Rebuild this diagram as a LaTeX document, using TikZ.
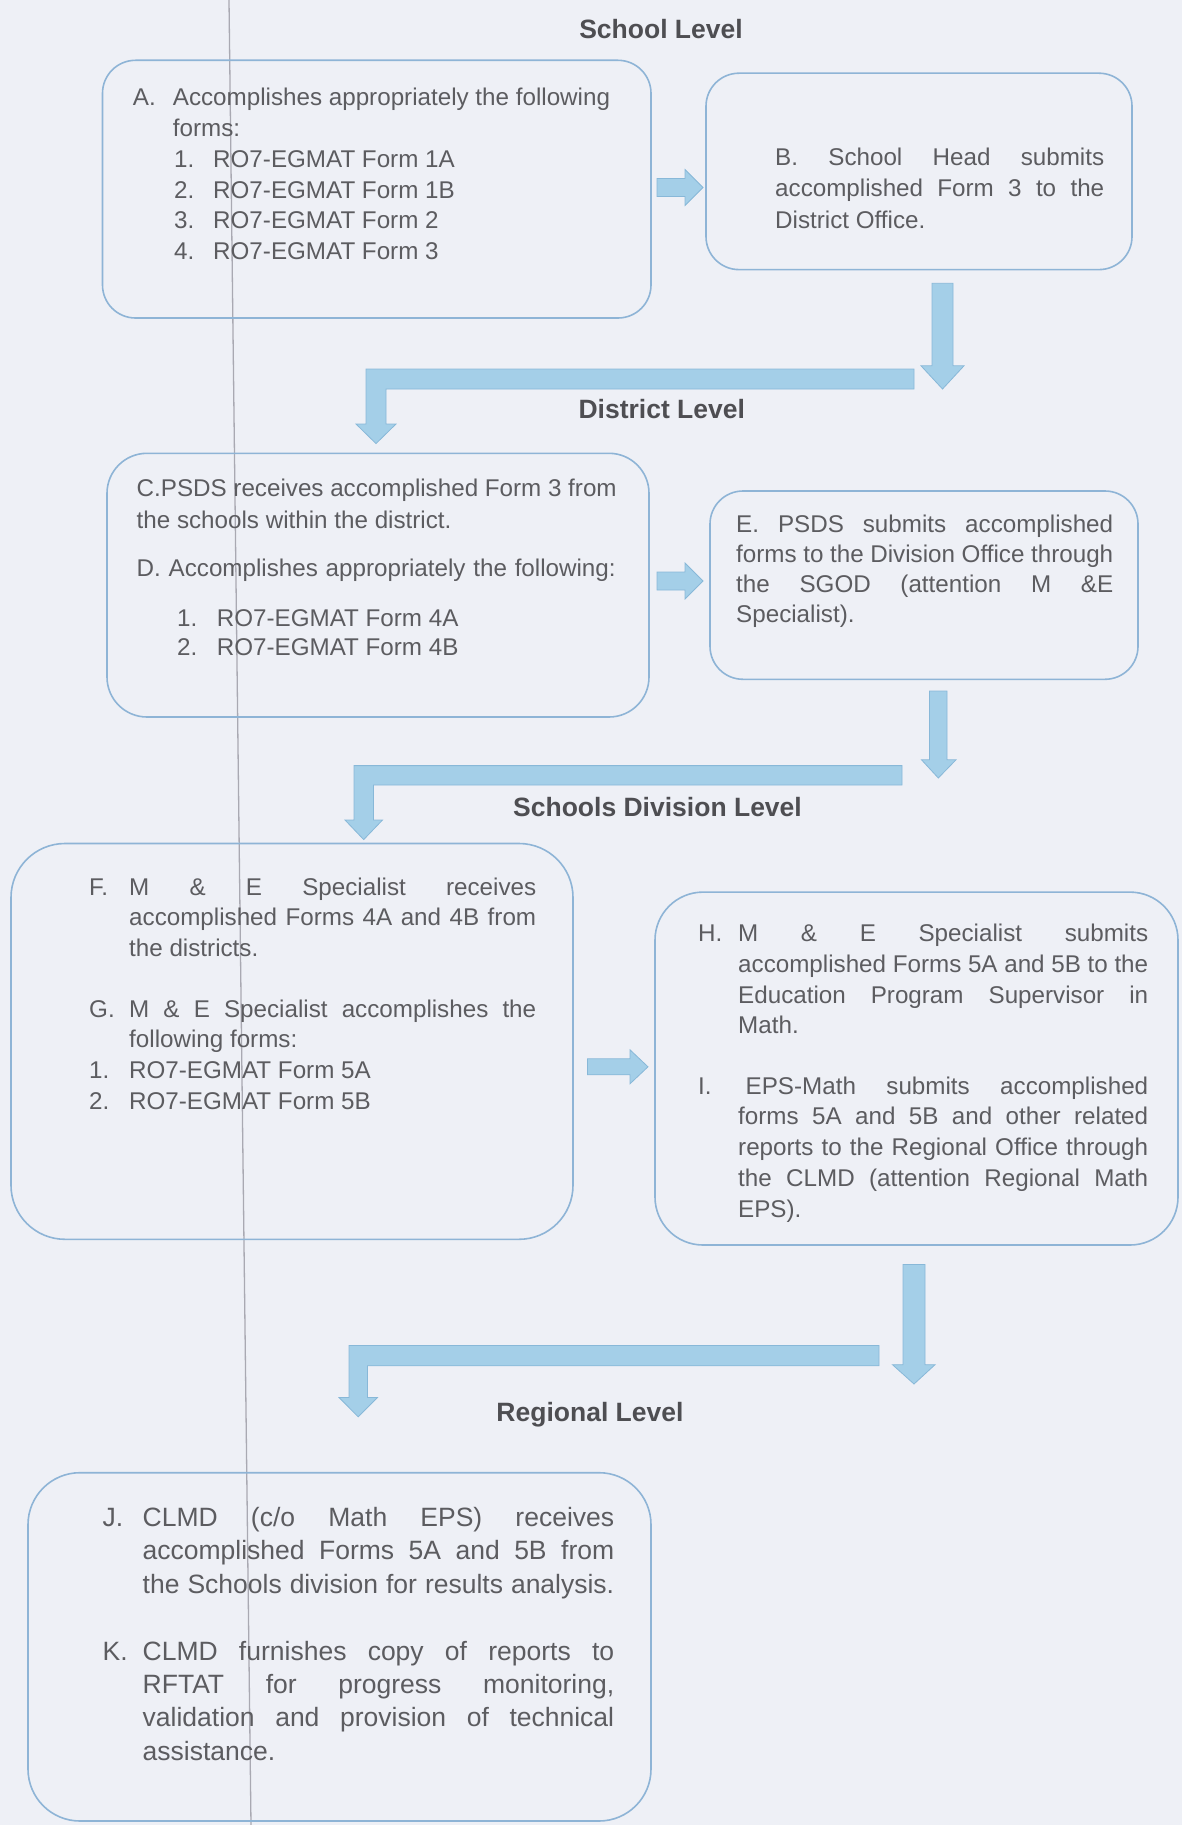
\documentclass[tikz,border=0pt]{standalone}
\usepackage{fontspec}
\setmainfont{Liberation Sans}
\definecolor{bgcol}{HTML}{EEF0F6}
\definecolor{boxblue}{HTML}{8EB4D6}
\definecolor{arrowblue}{HTML}{A4CFE8}
\definecolor{arrowedge}{HTML}{88B8D8}
\definecolor{txtcol}{HTML}{5C5C60}
\definecolor{headcol}{HTML}{4E4E52}
\definecolor{foldcol}{HTML}{A9A9B2}
\newcommand\bodyfont[2]{\fontsize{#1}{#2}\selectfont}
\newcommand\tlines[1]{\parbox[t]{600pt}{\raggedright #1}}
\tikzset{
  box/.style={draw=boxblue, line width=1.6pt, rectangle, inner sep=0pt},
  txt/.style={anchor=base west, inner sep=0pt, text=txtcol},
  headtxt/.style={anchor=base, inner sep=0pt, text=headcol, font=\bfseries\fontsize{26.5}{30}\selectfont},
  blk/.style={fill=arrowblue, draw=arrowedge, line width=0.8pt, line join=miter},
  fold/.style={draw=foldcol, line width=1.3pt}
}
\begin{document}
\begin{tikzpicture}[x=1pt,y=-1pt]
\useasboundingbox (0,0) rectangle (1182,1825);
\fill[bgcol] (0,0) rectangle (1182,1825);
\coordinate (foldtop) at (229,0);
\coordinate (foldbot) at (251,1825);
\draw[fold] (foldtop) -- (foldbot);

% headings
\node[headtxt] (hSchool) at (661,38.7) {School Level};
\node[headtxt] (hDistrict) at (661.75,418) {District Level};
\node[headtxt] (hDivision) at (657.5,816) {Schools Division Level};
\node[headtxt] (hRegional) at (590,1421) {Regional Level};

% boxes
\node[box, rounded corners=33pt, minimum width=548.5pt, minimum height=257.7pt] (A) at (376.75,189.15) {};
\node[box, rounded corners=33pt, minimum width=426pt, minimum height=196.4pt] (B) at (919,171.4) {};
\node[box, rounded corners=40pt, minimum width=542pt, minimum height=263.7pt] (C) at (378,585.15) {};
\node[box, rounded corners=33pt, minimum width=428pt, minimum height=188.3pt] (E) at (924,585.15) {};
\node[box, rounded corners=54pt, minimum width=562pt, minimum height=395.8pt] (F) at (292,1041.4) {};
\node[box, rounded corners=48pt, minimum width=523pt, minimum height=352.9pt] (H) at (916.5,1068.55) {};
\node[box, rounded corners=52pt, minimum width=623pt, minimum height=348.3pt] (J) at (339.5,1646.85) {};

% texts
\node[txt, font=\bodyfont{24.2}{30.7}] (tA) at (132.7,106) {\tlines{\makebox[40pt][l]{A.}Accomplishes appropriately the following\\
\hspace*{40pt}forms:\\
\hspace*{41.3pt}\makebox[39pt][l]{1.}RO7-EGMAT Form 1A\\
\hspace*{41.3pt}\makebox[39pt][l]{2.}RO7-EGMAT Form 1B\\
\hspace*{41.3pt}\makebox[39pt][l]{3.}RO7-EGMAT Form 2\\
\hspace*{41.3pt}\makebox[39pt][l]{4.}RO7-EGMAT Form 3}};

\node[txt, font=\bodyfont{24.2}{31.7}] (tB) at (775,165) {\tlines{\makebox[329pt][s]{B. School Head submits}\\
\makebox[329pt][s]{accomplished Form 3 to the}\\
District Office.}};

\node[txt, font=\bodyfont{24.2}{31.5}] (tC) at (136.5,496.5) {\tlines{\makebox[480pt][s]{C.PSDS receives accomplished Form 3 from}\\
the schools within the district.}};
\node[txt, font=\bodyfont{24.2}{29.5}] (tD) at (136.5,576.5) {\tlines{\makebox[479pt][s]{D. Accomplishes appropriately the following:}}};
\node[txt, font=\bodyfont{24.2}{29.5}] (tDlist) at (177,626) {\tlines{\makebox[39.7pt][l]{1.}RO7-EGMAT Form 4A\\
\makebox[39.7pt][l]{2.}RO7-EGMAT Form 4B}};

\node[txt, font=\bodyfont{24.2}{30.3}] (tE) at (736,532) {\tlines{\makebox[377pt][s]{E. PSDS submits accomplished}\\
\makebox[377pt][s]{forms to the Division Office through}\\
\makebox[377pt][s]{the SGOD (attention M \&E}\\
Specialist).}};

\node[txt, font=\bodyfont{24.2}{30.25}] (tF) at (89,895.5) {\tlines{\makebox[40pt][l]{F.}\makebox[407pt][s]{M \& E Specialist receives}\\
\hspace*{40pt}\makebox[407pt][s]{accomplished Forms 4A and 4B from}\\
\hspace*{40pt}the districts.}};
\node[txt, font=\bodyfont{24.2}{30.8}] (tG) at (89,1017) {\tlines{\makebox[40pt][l]{G.}\makebox[407pt][s]{M \& E Specialist accomplishes the}\\
\hspace*{40pt}following forms:\\
\makebox[40pt][l]{1.}RO7-EGMAT Form 5A\\
\makebox[40pt][l]{2.}RO7-EGMAT Form 5B}};

\node[txt, font=\bodyfont{24.2}{30.8}] (tH) at (698,941.5) {\tlines{\makebox[40pt][l]{H.}\makebox[410pt][s]{M \& E Specialist submits}\\
\hspace*{40pt}\makebox[410pt][s]{accomplished Forms 5A and 5B to the}\\
\hspace*{40pt}\makebox[410pt][s]{Education Program Supervisor in}\\
\hspace*{40pt}Math.}};
\node[txt, font=\bodyfont{24.2}{30.9}] (tI) at (698,1094) {\tlines{\makebox[47.5pt][l]{I.}\makebox[402.5pt][s]{EPS-Math submits accomplished}\\
\hspace*{40pt}\makebox[410pt][s]{forms 5A and 5B and other related}\\
\hspace*{40pt}\makebox[410pt][s]{reports to the Regional Office through}\\
\hspace*{40pt}\makebox[410pt][s]{the CLMD (attention Regional Math}\\
\hspace*{40pt}EPS).}};

\node[txt, font=\bodyfont{26.5}{33.5}] (tJ) at (102.5,1526) {\tlines{\makebox[40pt][l]{J.}\makebox[471.5pt][s]{CLMD (c/o Math EPS) receives}\\
\hspace*{40pt}\makebox[471.5pt][s]{accomplished Forms 5A and 5B from}\\
\hspace*{40pt}\makebox[471.5pt][s]{the Schools division for results analysis.}}};
\node[txt, font=\bodyfont{26.5}{33.4}] (tK) at (102.5,1660) {\tlines{\makebox[40pt][l]{K.}\makebox[471.5pt][s]{CLMD furnishes copy of reports to}\\
\hspace*{40pt}\makebox[471.5pt][s]{RFTAT for progress monitoring,}\\
\hspace*{40pt}\makebox[471.5pt][s]{validation and provision of technical}\\
\hspace*{40pt}assistance.}};

% block arrows
\filldraw[blk] (657,178.5) -- (685,178.5) -- (685,169.5) -- (703,187.5) -- (685,205.5) -- (685,196.5) -- (657,196.5) -- cycle;
\filldraw[blk] (657,572) -- (685,572) -- (685,563) -- (703,581) -- (685,599) -- (685,590) -- (657,590) -- cycle;
\filldraw[blk] (587.5,1058.8) -- (630,1058.8) -- (630,1049.8) -- (648,1066.8) -- (630,1083.8) -- (630,1074.8) -- (587.5,1074.8) -- cycle;

\filldraw[blk] (932,283.3) -- (953,283.3) -- (953,365.8) -- (964,365.8) -- (942.5,389) -- (921,365.8) -- (932,365.8) -- cycle;
\filldraw[blk] (929.5,691) -- (947,691) -- (947,759.8) -- (956,759.8) -- (938.3,778) -- (921.5,759.8) -- (929.5,759.8) -- cycle;
\filldraw[blk] (903,1264.4) -- (925,1264.4) -- (925,1364.7) -- (935,1364.7) -- (914,1384) -- (892.5,1364.7) -- (903,1364.7) -- cycle;

\filldraw[blk] (914,369) -- (366,369) -- (366,424) -- (356,424) -- (376,443.6) -- (396,424) -- (386,424) -- (386,389) -- (914,389) -- cycle;
\filldraw[blk] (902,765.6) -- (354,765.6) -- (354,820) -- (345,820) -- (363.7,839.6) -- (382.5,820) -- (373.5,820) -- (373.5,785) -- (902,785) -- cycle;
\filldraw[blk] (879,1345.4) -- (349,1345.4) -- (349,1397.5) -- (339,1397.5) -- (358.2,1416.8) -- (377.5,1397.5) -- (367.5,1397.5) -- (367.5,1365.8) -- (879,1365.8) -- cycle;
\end{tikzpicture}
\end{document}
